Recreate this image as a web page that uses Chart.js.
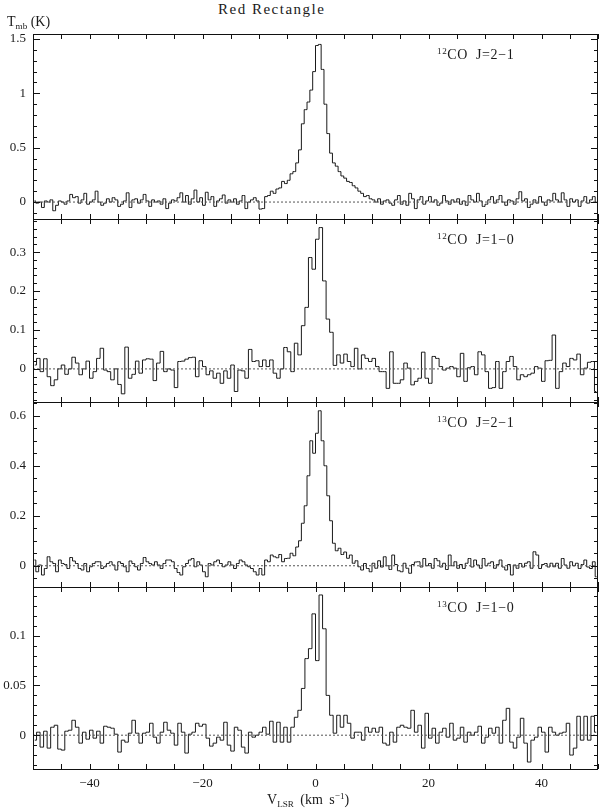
<!DOCTYPE html>
<html>
<head>
<meta charset="utf-8">
<script src="https://cdn.jsdelivr.net/npm/chart.js@4.4.0/dist/chart.umd.min.js"></script>
<style>
  html, body { margin: 0; padding: 0; background: #fff; }
  #page { position: relative; width: 600px; height: 808px; overflow: hidden;
          font-family: "Liberation Serif", "DejaVu Serif", serif; color: #1a1a1a; }
  canvas { position: absolute; left: 0; }
  .txt { position: absolute; white-space: nowrap; line-height: 1; z-index: 2; }
  .txt sup { font-size: 65%; vertical-align: 0.5em; line-height: 0; }
  .txt sub { font-size: 65%; vertical-align: -0.35em; line-height: 0; }
</style>
</head>
<body>
<div id="page">
  <div class="txt" style="left:218px;top:2px;font-size:15px;letter-spacing:1.5px">Red Rectangle</div>
  <div class="txt" style="left:7px;top:15px;font-size:14px">T<sub>mb</sub> (K)</div>
  <div class="txt" style="left:267px;top:793px;font-size:14px;word-spacing:3px">V<sub>LSR</sub> (km s<sup>&minus;1</sup>)</div>
</div>
<script>
// channel grids (km/s): first channel centre and channel width
const v0_21 = -49.75, dv_21 = 0.5;
const v0_10 = -49.6875, dv_10 = 0.625;

// main-beam temperatures (K)
const co12_21 = [
  0.01, -0.01, 0.00, -0.05, 0.01, 0.00, 0.02, -0.08, -0.03, 0.01,
  0.00, -0.02, 0.01, 0.07, 0.04, 0.05, -0.01, 0.02, 0.08, -0.02,
  0.00, 0.02, 0.10, 0.00, -0.03, -0.01, 0.03, 0.00, 0.04, 0.02,
  -0.04, -0.02, 0.01, 0.085, -0.05, 0.02, 0.03, -0.01, 0.02, 0.07,
  0.01, -0.04, 0.02, 0.00, 0.01, -0.02, 0.03, -0.06, -0.01, 0.02,
  0.01, 0.04, 0.085, 0.00, 0.06, -0.02, 0.03, 0.11, 0.00, 0.04,
  -0.03, 0.09, 0.02, 0.05, -0.04, 0.01, 0.03, 0.065, -0.01, 0.02,
  0.00, 0.03, -0.02, 0.01, 0.06, -0.06, 0.00, 0.02, 0.04, 0.01,
  -0.065, -0.06, 0.05, 0.06, 0.10, 0.08, 0.12, 0.13, 0.19, 0.17,
  0.20, 0.26, 0.28, 0.36, 0.48, 0.72, 0.85, 0.92, 1.03, 1.20,
  1.44, 1.45, 1.22, 0.90, 0.63, 0.45, 0.36, 0.33, 0.28, 0.24,
  0.22, 0.19, 0.18, 0.15, 0.13, 0.10, 0.08, 0.05, 0.06, 0.03,
  0.02, 0.00, 0.03, -0.02, 0.01, 0.02, -0.01, -0.03, 0.02, 0.06,
  -0.02, 0.01, -0.03, 0.08, 0.03, -0.06, 0.02, 0.05, -0.02, 0.01,
  0.05, 0.00, 0.02, -0.03, -0.01, 0.06, 0.01, -0.02, 0.02, 0.00,
  0.03, -0.02, 0.01, -0.03, 0.06, 0.02, 0.00, 0.08, 0.01, -0.04,
  -0.02, 0.02, 0.05, -0.01, 0.02, 0.06, 0.00, -0.03, 0.02, 0.01,
  -0.02, 0.03, 0.095, 0.01, 0.03, -0.05, -0.02, 0.02, -0.01, 0.05,
  0.00, -0.03, 0.02, 0.01, 0.08, 0.02, 0.00, 0.085, 0.02, -0.04,
  0.03, 0.00, 0.02, -0.04, 0.01, 0.05, -0.01, 0.02, 0.05, 0.00
];
const co12_10 = [
  0.01,
  0.027, -0.007, 0.026, -0.02, -0.043, -0.028, 0.0, 0.01, -0.014, 0.0,
  0.03, 0.015, -0.015, 0.0, 0.02, -0.024, -0.007, 0.027, 0.053, -0.003,
  -0.007, -0.028, 0.0, -0.04, -0.064, 0.056, -0.024, -0.014, 0.02, -0.011,
  0.023, 0.026, 0.025, -0.03, 0.015, 0.045, -0.007, 0.0, -0.003, -0.048,
  0.019, 0.02, 0.025, 0.029, 0.03, -0.02, 0.021, 0.006, -0.015, -0.005,
  -0.024, -0.011, -0.037, -0.005, -0.024, 0.01, -0.058, -0.003, -0.005, -0.024,
  0.05, 0.019, 0.021, 0.006, 0.023, 0.006, 0.023, -0.011, -0.024, 0.0,
  0.055, 0.044, -0.007, 0.066, 0.036,
  0.111, 0.158, 0.286, 0.256, 0.333, 0.363, 0.226, 0.128, 0.094,
  0.009, 0.036, 0.015, 0.038, 0.019, 0.006, 0.053, 0.0, 0.036, 0.027,
  0.019, 0.027, 0.006, -0.007, -0.007, -0.05, 0.044, -0.037, -0.037, -0.028,
  0.015, 0.002, -0.041, -0.032, -0.024, 0.043, -0.024, -0.037, 0.032, 0.027,
  0.006, -0.003, 0.002, 0.006, 0.002, -0.02, 0.04, -0.032, 0.003, 0.006,
  -0.015, 0.044, 0.036, -0.007, -0.05, -0.048, 0.019, -0.05, -0.007, 0.019,
  0.032, 0.006, -0.028, -0.015, -0.02, -0.015, -0.011, 0.006, 0.002, -0.032,
  0.021, 0.022, 0.087, -0.05, -0.007, 0.015, 0.006, 0.027, 0.023, 0.038,
  -0.015, 0.002, 0.017, 0.019, -0.058
];
const co13_21 = [
  0.023, -0.024, 0.003, -0.037, -0.011, 0.036, 0.016, 0.009, -0.024, 0.023,
  0.009, 0.005, -0.011, 0.033, 0.019, 0.009, -0.011, -0.017, 0.009, -0.024,
  -0.004, 0.009, 0.016, 0.016, -0.011, -0.004, 0.009, 0.016, 0.003, -0.017,
  0.016, 0.009, -0.004, -0.024, 0.019, 0.009, -0.004, -0.017, 0.009, 0.033,
  0.016, 0.009, 0.003, 0.016, 0.003, -0.011, 0.009, 0.023, 0.023, 0.016,
  -0.011, -0.027, -0.037, -0.004, 0.009, 0.023, 0.029, -0.004, 0.016, 0.003,
  -0.024, -0.044, 0.009, 0.003, 0.016, 0.023, 0.009, -0.004, 0.003, 0.016,
  0.003, -0.011, 0.009, 0.023, 0.016, 0.003, -0.004, -0.011, -0.024, -0.037,
  -0.011, -0.037, 0.023, 0.016, 0.043, 0.036, 0.032, 0.045, 0.016, 0.029,
  0.03, 0.05, 0.04, 0.075, 0.10, 0.17, 0.24, 0.36, 0.50, 0.45,
  0.53, 0.62, 0.50, 0.40, 0.28, 0.18,
  0.09, 0.06, 0.07, 0.045, 0.055, 0.03, 0.043, 0.01, 0.02, -0.004,
  -0.017, 0.009, -0.011, -0.024, 0.01, -0.01, 0.02, -0.005, 0.036, 0.0,
  -0.015, 0.043, 0.005, -0.02, -0.024, 0.01, -0.01, -0.03, 0.005, 0.015,
  0.016, -0.005, 0.029, 0.0, 0.009, -0.01, 0.029, 0.02, -0.005, 0.01,
  -0.015, 0.043, 0.0, 0.016, -0.01, 0.005, -0.011, 0.01, 0.029, -0.005,
  0.023, 0.003, -0.01, 0.029, 0.0, 0.01, 0.016, -0.01, 0.005, 0.023,
  -0.005, -0.017, 0.005, -0.037, 0.003, -0.01, 0.009, -0.005, 0.01, 0.016,
  -0.01, 0.056, 0.043, -0.011, 0.005, 0.009, -0.005, 0.01, -0.004, 0.01,
  -0.01, 0.029, 0.003, -0.01, 0.016, 0.0, 0.01, -0.011, 0.005, 0.023,
  -0.005, -0.011, 0.016, -0.044
];
const co13_10 = [
  -0.005, 0.003, -0.012, 0.004, -0.013, 0.008, 0.01, -0.014, -0.015, 0.004,
  0.005, 0.015, 0.008, -0.008, 0.003, -0.004, 0.005, -0.003, 0.004, -0.008,
  0.009, 0.008, 0.007, 0.001, -0.017, -0.005, -0.007, 0.002, 0.015, 0.002,
  -0.008, 0.002, 0.003, 0.012, -0.002, -0.008, 0.003, 0.013, 0.005, 0.002,
  -0.01, 0.012, 0.003, -0.018, 0.001, 0.003, 0.012, 0.009, 0.011, -0.003,
  -0.011, -0.008, -0.002, -0.005, 0.013, -0.01, -0.016, 0.008, 0.005, -0.012,
  -0.018, 0.003, -0.002, 0.0, 0.003, 0.008, 0.001, 0.014, -0.007, 0.013,
  -0.007, 0.008, -0.007, 0.008, 0.018,
  0.025, 0.047, 0.077, 0.087, 0.122, 0.075, 0.141, 0.107, 0.04, 0.02,
  0.002, 0.02, 0.008, 0.02, 0.012, -0.003, 0.003, 0.003, -0.005, 0.008,
  0.003, 0.007, 0.003, 0.008, -0.008, -0.01, 0.003, -0.007, 0.008, 0.01,
  0.008, 0.007, 0.025, 0.003, 0.01, -0.013, 0.022, -0.003, 0.007, -0.008,
  0.003, 0.007, -0.002, 0.012, -0.005, -0.003, 0.008, -0.007, 0.003, 0.0,
  0.003, 0.009, -0.008, -0.002, 0.007, 0.002, 0.008, -0.008, 0.015, 0.027,
  -0.007, -0.013, -0.002, 0.017, -0.008, -0.027, -0.005, -0.002, 0.008, 0.003,
  -0.017, 0.008, 0.003, 0.0, 0.002, 0.003, 0.012, -0.02, -0.013, 0.019,
  -0.005, 0.019, -0.005, 0.019, 0.003
];

// labelled ticks
const xLabelTicks = [-40, -20, 0, 20, 40];
const yLabels12_21 = [0, 0.5, 1, 1.5];
const yLabels12_10 = [0, 0.1, 0.2, 0.3];
const yLabels13_21 = [0, 0.2, 0.4, 0.6];
const yLabels13_10 = [0, 0.05, 0.1];

// line names
const isotopes = ['12', '12', '13', '13'];
const transitions = ['J=2\u22121', 'J=1\u22120', 'J=2\u22121', 'J=1\u22120'];

Chart.defaults.font.family = "'Liberation Serif', 'DejaVu Serif', serif";
Chart.defaults.font.size = 13;
Chart.defaults.color = '#1a1a1a';

const panels = [
  { values: co12_21, v0: v0_21, dv: dv_21, min: -0.156, max: 1.546, step: 0.1, labels: yLabels12_21 },
  { values: co12_10, v0: v0_10, dv: dv_10, min: -0.085, max: 0.385, step: 0.02, labels: yLabels12_10 },
  { values: co13_21, v0: v0_21, dv: dv_21, min: -0.085, max: 0.655, step: 0.05, labels: yLabels13_21 },
  { values: co13_10, v0: v0_10, dv: dv_10, min: -0.034, max: 0.149, step: 0.01, labels: yLabels13_10 }
];

const panelTop = [34, 219, 402, 587];
const panelBottom = [219, 402, 587, 769];

const inList = (list, v) => list.some(m => Math.abs(m - v) < 1e-9);
const minus = v => (v < 0 ? '\u2212' + Math.abs(v) : String(Math.abs(v)));
const noPad = s => { s.paddingTop = 0; s.paddingBottom = 0; s.paddingLeft = 0; s.paddingRight = 0; };

// box and inward tick marks on all four sides
const frameTicks = {
  id: 'frameTicks',
  afterDatasetsDraw(chart, args, opts) {
    const { ctx, chartArea: a, scales: { x, y } } = chart;
    ctx.save();
    ctx.strokeStyle = '#111';
    ctx.lineWidth = 1;
    ctx.beginPath();
    x.ticks.forEach(t => {
      const px = Math.round(x.getPixelForValue(t.value)) + 0.5;
      ctx.moveTo(px, a.bottom); ctx.lineTo(px, a.bottom - 5);
      ctx.moveTo(px, a.top); ctx.lineTo(px, a.top + 5);
    });
    y.ticks.forEach(t => {
      const py = Math.round(y.getPixelForValue(t.value)) + 0.5;
      const len = inList(opts.labels, t.value) ? 7 : 4;
      ctx.moveTo(a.left, py); ctx.lineTo(a.left + len, py);
      ctx.moveTo(a.right, py); ctx.lineTo(a.right - len, py);
    });
    ctx.stroke();
    ctx.strokeRect(Math.round(a.left) + 0.5, Math.round(a.top) + 0.5,
                   Math.round(a.right - a.left) - 1, Math.round(a.bottom - a.top));
    ctx.restore();
  }
};

const page = document.getElementById('page');

panels.forEach((p, k) => {
  const last = k === panels.length - 1;
  const padTop = 6, padBot = last ? 0 : 6, xh = last ? 28 : 0;
  const h = panelBottom[k] - panelTop[k] + padTop + padBot + xh;
  const cv = document.createElement('canvas');
  cv.width = 600; cv.height = h;
  cv.style.width = '600px'; cv.style.height = h + 'px';
  cv.style.top = (panelTop[k] - padTop) + 'px';
  page.insertBefore(cv, page.firstChild);

  new Chart(cv, {
    type: 'line',
    data: {
      datasets: [{
        data: [{ x: -50, y: 0 }, { x: 50, y: 0 }],
        borderColor: '#555',
        borderWidth: 1,
        borderDash: [2, 2],
        pointRadius: 0
      }, {
        data: p.values.map((t, i) => ({ x: p.v0 + i * p.dv, y: t })),
        borderColor: '#1a1a1a',
        borderWidth: 1,
        stepped: 'middle',
        pointRadius: 0
      }]
    },
    options: {
      responsive: false,
      animation: false,
      events: [],
      layout: { autoPadding: false, padding: { top: padTop, bottom: padBot, left: 0, right: 2 } },
      plugins: {
        legend: { display: false },
        tooltip: { enabled: false },
        frameTicks: { labels: p.labels }
      },
      scales: {
        x: {
          type: 'linear',
          min: -50,
          max: 50,
          grid: { display: false, drawTicks: false },
          border: { display: false },
          ticks: {
            display: last,
            stepSize: 5,
            autoSkip: false,
            maxRotation: 0,
            padding: 7,
            callback: v => (inList(xLabelTicks, v) ? minus(v) : '')
          },
          afterFit: s => { s.height = xh; noPad(s); }
        },
        y: {
          min: p.min,
          max: p.max,
          grid: { display: false, drawTicks: false },
          border: { display: false },
          ticks: {
            stepSize: p.step,
            autoSkip: false,
            includeBounds: false,
            padding: 7,
            callback: v => (inList(p.labels, v) ? String(+v.toFixed(3)) : '')
          },
          afterFit: s => { s.width = 33; noPad(s); }
        }
      }
    },
    plugins: [frameTicks]
  });

  const lab = document.createElement('div');
  lab.className = 'txt';
  lab.style.left = '437px';
  lab.style.top = (panelTop[k] + 14) + 'px';
  lab.style.fontSize = '14px';
  lab.style.letterSpacing = '0.6px';
  lab.style.wordSpacing = '4px';
  lab.innerHTML = '<sup>' + isotopes[k] + '</sup>CO ' + transitions[k];
  page.appendChild(lab);
});
</script>
</body>
</html>
